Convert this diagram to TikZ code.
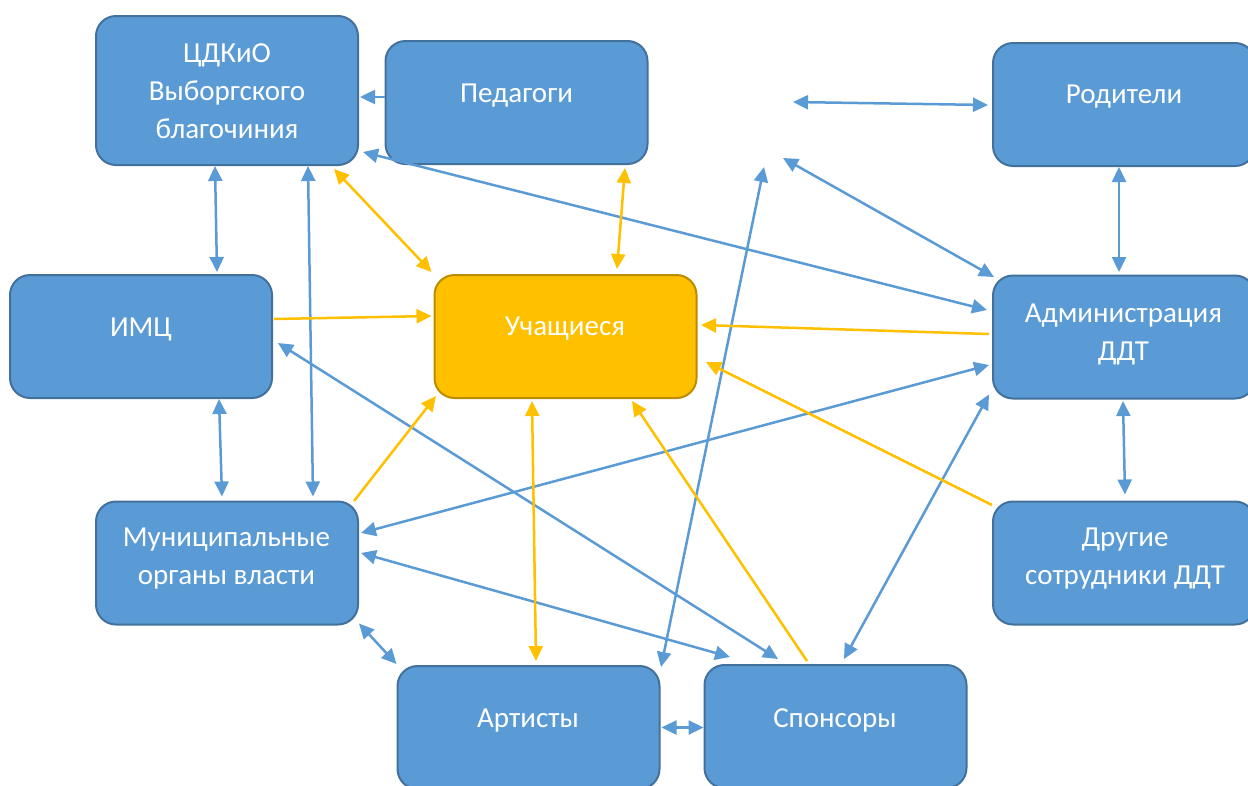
\documentclass[tikz,border=0pt]{standalone}
\usepackage{fontspec}
\setmainfont{Carlito}
\usetikzlibrary{arrows.meta,calc}
\definecolor{bfill}{HTML}{5B9BD5}
\definecolor{bdraw}{HTML}{41719C}
\definecolor{ofill}{HTML}{FFC000}
\definecolor{odraw}{HTML}{BC8C00}
\definecolor{bline}{HTML}{5B9BD5}
\begin{document}
\begin{tikzpicture}[x=1pt,y=-1pt,
  box/.style={draw=bdraw, fill=bfill, line width=2pt, rounded corners=20pt,
    minimum width=262pt, minimum height=123pt, inner sep=0pt},
  obox/.style={box, draw=odraw, fill=ofill},
  txt/.style={text=white, font=\fontsize{29}{38}\selectfont, align=center, inner sep=0pt},
  >={Triangle[length=15pt,width=14pt]},
  conn/.style={line width=2.5pt, draw=bline},
  oconn/.style={line width=2.5pt, draw=ofill}]
\fill[white] (0,0) rectangle (1248,785);
\useasboundingbox (0,0) rectangle (1248,785);
\clip (0,0) rectangle (1248,785);
% boxes
\node[box, minimum height=149pt] (cdk) at (227,90.5) {};
\node[box] (ped) at (516.5,102.5) {};
\node[box] (rod) at (1124,104.5) {};
\node[box] (imc) at (141,336.5) {};
\node[obox] (uch) at (565.5,336.5) {};
\node[box] (adm) at (1124,337) {};
\node[box] (mun) at (227,563) {};
\node[box] (dru) at (1124,563) {};
\node[box] (art) at (528.5,727.5) {};
\node[box] (spo) at (835.5,726.5) {};
% texts
\node[txt] (tcdk) at (227,91) {ЦДКиО\\Выборгского\\благочиния};
\node[txt] (tped) at (516.5,96) {Педагоги};
\node[txt] (trod) at (1124,97) {Родители};
\node[txt] (timc) at (141,329) {ИМЦ};
\node[txt] (tuch) at (565,329) {Учащиеся};
\node[txt] (tadm) at (1123.5,334.5) {Администрация\\ДДТ};
\node[txt] (tmun) at (226.5,559) {Муниципальные\\органы власти};
\node[txt] (tdru) at (1125,559) {Другие\\сотрудники ДДТ};
\node[txt] (tart) at (528,721) {Артисты};
\node[txt] (tspo) at (835,720) {Спонсоры};
% free ends
\coordinate (bl1) at (793,102);
\coordinate (bl2) at (783,158);
\coordinate (bl3) at (764,167);
% blue connectors
\draw[conn,->] ($(ped.west)+(0,-5.5)$) -- ($(cdk.east)+(1,6.5)$);
\draw[conn,<->] ($(cdk.south)+(-12,0)$) -- ($(imc.north)+(76,-2)$);
\draw[conn,<->] ($(cdk.south)+(81,0)$) -- ($(mun.north)+(86,-4)$);
\draw[conn,<->] ($(cdk.east)+(4,61.5)$) -- ($(adm.west)+(-5,-27)$);
\draw[conn,<->] (bl1) -- ($(rod.west)+(-4,0.5)$);
\draw[conn,<->] (bl2) -- ($(adm.north west)+(2,2.5)$);
\draw[conn,<->] (bl3) -- ($(art.north east)+(0.5,2)$);
\draw[conn,<->] ($(imc.east)+(5,6.5)$) -- ($(spo.north)+(-57.5,-5)$);
\draw[conn,<->] ($(imc.south)+(78,0)$) -- ($(mun.north)+(-5,-4)$);
\draw[conn,<->] ($(adm.west)+(-3,28)$) -- ($(mun.east)+(2,-30)$);
\draw[conn,<->] ($(mun.east)+(2,-10)$) -- ($(spo.north)+(-105.5,-7)$);
\draw[conn,<->] ($(mun.south east)+(0,-2)$) -- ($(art.north west)+(0,-1)$);
\draw[conn,<->] ($(art.east)+(1,0)$) -- ($(spo.west)+(0,1)$);
\draw[conn,<->] ($(adm.south west)+(-3,-5)$) -- ($(spo.north)+(8.5,-5)$);
\draw[conn,<->] ($(rod.south)+(-5,0)$) -- ($(adm.north)+(-5,-2.5)$);
\draw[conn,<->] ($(adm.south)+(-1,1.5)$) -- ($(dru.north)+(1,-6)$);
% orange connectors
\draw[oconn,<->] ($(cdk.south east)+(-25,3)$) -- ($(uch.north west)+(-2,-2)$);
\draw[oconn,<->] ($(ped.south)+(108.5,3)$) -- ($(uch.north)+(51.5,-5)$);
\draw[oconn,->] ($(imc.east)+(1,-17.5)$) -- ($(uch.west)+(-2,-20.5)$);
\draw[oconn,->] ($(mun.north east)+(-5,0.5)$) -- ($(uch.south west)+(2.5,-3)$);
\draw[oconn,<->] ($(uch.south)+(-33.5,2)$) -- ($(art.north)+(7.5,-4)$);
\draw[oconn,->] ($(spo.north)+(-28.5,-3)$) -- ($(uch.south)+(66.5,2)$);
\draw[oconn,->] ($(adm.west)+(-3,-3)$) -- ($(uch.east)+(3.5,-11.5)$);
\draw[oconn,->] ($(dru.north west)+(0,4.5)$) -- ($(uch.east)+(8.5,25.5)$);
\end{tikzpicture}
\end{document}
